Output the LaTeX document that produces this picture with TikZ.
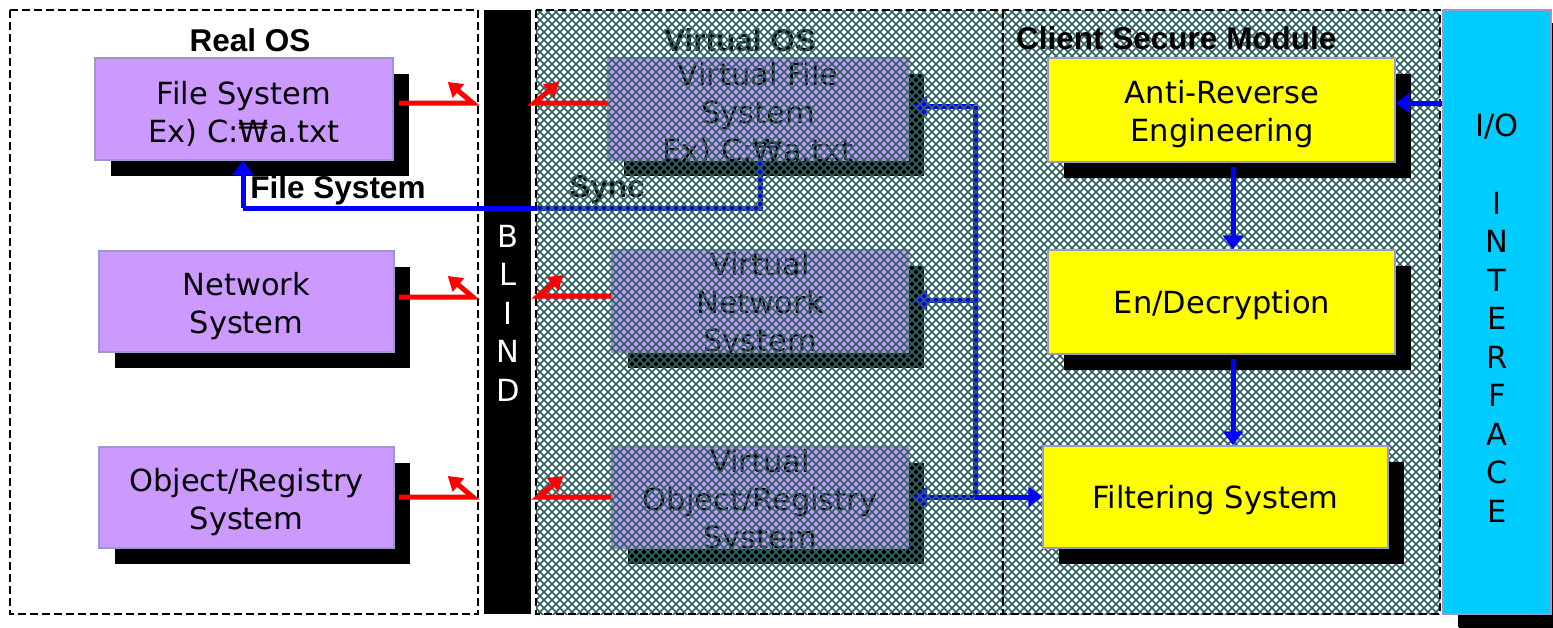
\documentclass[tikz,border=0pt]{standalone}
\usepackage{fontspec}
\setmainfont{DejaVu Sans}
\newfontfamily\arialfont{Liberation Sans}
\usetikzlibrary{shadows,arrows.meta}
\definecolor{purp}{HTML}{CC99FF}
\definecolor{bord}{HTML}{9999CC}
\definecolor{ylw}{HTML}{FFFF00}
\definecolor{cyn}{HTML}{00CCFF}
\definecolor{hatchc}{HTML}{2F6262}
\definecolor{blu}{HTML}{0000FF}
\definecolor{rd}{HTML}{FF0000}
\tikzset{
 boxtext/.style={font=\fontsize{30.5}{38}\selectfont, align=center, text=black},
 sysbox/.style={boxtext, draw=bord, line width=1.5pt, inner sep=0pt,
   drop shadow={shadow xshift=16pt, shadow yshift=-16pt, fill=black, opacity=1}},
 realbox/.style={sysbox, fill=purp},
 secbox/.style={sysbox, fill=ylw},
 region/.style={draw=black, dash pattern=on 8pt off 4pt, line width=2pt},
 hatchline/.style={draw=hatchc, line width=1.6pt},
 title/.style={font=\arialfont\bfseries\fontsize{31.5}{36}\selectfont, inner sep=0pt},
 redarrow/.style={draw=rd, line width=5pt, -{Triangle[width=17pt,length=14pt]}},
 bluearrow/.style={draw=blu, line width=5pt, -{Triangle[width=20pt,length=14pt]}},
 blueline/.style={draw=blu, line width=5pt},
 vletters/.style={font=\fontsize{30.5}{38.5}\selectfont, align=center, inner sep=0pt},
}
\begin{document}
\begin{tikzpicture}[x=1pt,y=-1pt]
\useasboundingbox (0,0) rectangle (1553,627);
\fill[white] (0,0) rectangle (1553,627);
% Real OS region
\draw[region] (10,10) rectangle (478,614);
% Blind bar
\node[fill=black, minimum width=47pt, minimum height=604pt, inner sep=0pt] (blind) at (507.5,312) {};
\node[vletters, text=white] (blindtxt) at (508,313) {B\\L\\I\\N\\D};
% Client hatch
\begin{scope}
\clip (1003,10) rectangle (1440,614);
\foreach \i in {46,...,181} {\draw[hatchline] (8*\i-640,-640) -- ++(1400,1400);}
\foreach \i in {124,...,259} {\draw[hatchline] (8*\i+640,-640) -- ++(-1400,1400);}
\end{scope}
% Virtual boxes
\node[realbox, minimum width=300pt, minimum height=102pt] (vfs) at (758,109) {};
\node[boxtext] (vfst) at (758,114) {Virtual File\\System\\Ex) C:₩a.txt};
\node[realbox, minimum width=296pt, minimum height=102pt] (vns) at (760,301) {};
\node[boxtext] (vnst) at (760,305) {Virtual\\Network\\System};
\node[realbox, minimum width=296pt, minimum height=101pt] (vos) at (760,497.5) {};
\node[boxtext] (vost) at (760,502) {Virtual\\Object/Registry\\System};
% Titles under hatch
\node[title] (vtitle) at (740,40) {Virtual OS};
\node[title, anchor=west] (ctitle) at (1016,38) {Client Secure Module};
\node[title] (sync) at (607,190) {Sync};
% Blue lines
\coordinate (s1) at (760,208);
\coordinate (s2) at (243,208);
\coordinate (j1) at (975,106);
\coordinate (j2) at (975,300);
\coordinate (j3) at (975,497);
\draw[blueline] (vfs.south -| s1) -- (s1) -- (s2);
\draw[blueline] (j1) -- (j3);
\draw[bluearrow] (j1) -- (913,106);
\draw[bluearrow] (j2) -- (913,300);
\draw[bluearrow] (j3) -- (913,497);
% Virtual hatch
\begin{scope}
\clip (536,10) rectangle (1003,614);
\foreach \i in {-12,...,126} {\draw[hatchline] (8*\i-640,-640) -- ++(1400,1400);}
\foreach \i in {66,...,205} {\draw[hatchline] (8*\i+640,-640) -- ++(-1400,1400);}
\end{scope}
\draw[region] (536,10) rectangle (1003,614);
\draw[region] (1003,10) rectangle (1440,614);
% Secure module boxes
\node[secbox, minimum width=347pt, minimum height=104pt] (are) at (1221.5,110) {};
\node[boxtext] (aret) at (1222,114) {Anti-Reverse\\Engineering};
\node[secbox, minimum width=347pt, minimum height=104pt] (enc) at (1221.5,302) {};
\node[boxtext] (enct) at (1222,305) {En/Decryption};
\node[secbox, minimum width=345pt, minimum height=102pt] (flt) at (1215.5,497) {};
\node[boxtext] (fltt) at (1215.5,500) {Filtering System};
\draw[bluearrow] (j3) -- (flt.west |- j3);
\draw[bluearrow] (are.south -| 1233,0) ++(0,4) -- (enc.north -| 1233,0);
\draw[bluearrow] (enc.south -| 1233,0) ++(0,4) -- (flt.north -| 1233,0);
% I/O interface
\node[sysbox, fill=cyn, minimum width=108pt, minimum height=604pt,
  drop shadow={shadow xshift=15pt, shadow yshift=-13pt, fill=black, opacity=1}] (io) at (1497,312) {};
\node[boxtext, inner sep=0pt] (iotxt) at (1497,127) {I/O};
\node[vletters] (ifc) at (1497,357) {I\\N\\T\\E\\R\\F\\A\\C\\E};
\draw[bluearrow] (io.west |- 0,103) -- (are.east |- 0,103);
% Real OS boxes
\node[realbox, minimum width=298pt, minimum height=102pt] (fs) at (244,109) {};
\node[boxtext] (fst) at (244,114) {File System\\Ex) C:₩a.txt};
\node[realbox, minimum width=295pt, minimum height=101pt] (ns) at (246.5,301.5) {};
\node[boxtext] (nst) at (246.5,306) {Network\\System};
\node[realbox, minimum width=295pt, minimum height=101pt] (os) at (246.5,497.5) {};
\node[boxtext] (ost) at (246.5,502) {Object/Registry\\System};
\node[title] (rtitle) at (250,40) {Real OS};
\node[title] (fslabel) at (338,190) {File System};
% Sync arrow head into File System
\draw[bluearrow] (s2) -- (fs.south -| s2);
% Red arrows
\draw[redarrow] (fs.east |- 0,103) ++(5,0) -- ++(74,0) -- ++(-25,-21);
\draw[redarrow] (ns.east |- 0,297) ++(4,0) -- ++(74,0) -- ++(-25,-21);
\draw[redarrow] (os.east |- 0,497) ++(4,0) -- ++(74,0) -- ++(-25,-21);
\draw[redarrow] (vfs.west |- 0,103) -- ++(-73,0) -- ++(25,-21);
\draw[redarrow] (vns.west |- 0,296) -- ++(-73,0) -- ++(25,-21);
\draw[redarrow] (vos.west |- 0,497) -- ++(-73,0) -- ++(25,-21);
\end{tikzpicture}
\end{document}
